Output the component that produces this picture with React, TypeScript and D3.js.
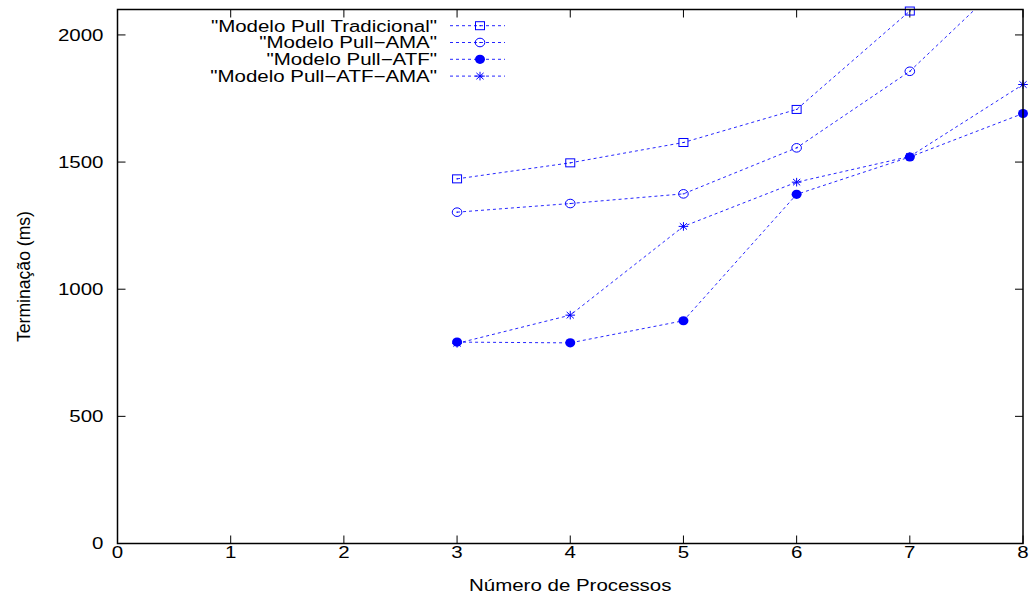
import React from "react";
import * as d3 from "d3";

const xValues = [3, 4, 5, 6, 7, 8];
const seriesNames = [
  '"Modelo Pull Tradicional"',
  '"Modelo Pull\u2212AMA"',
  '"Modelo Pull\u2212ATF"',
  '"Modelo Pull\u2212ATF\u2212AMA"',
];
const tradicional = [1434, 1497, 1577, 1707, 2094, 2500];
const pullAMA = [1303, 1337, 1375, 1556, 1857, 2280];
const pullATF = [792, 789, 876, 1373, 1520, 1691];
const pullATFAMA = [787, 898, 1247, 1421, 1522, 1805];
const markerTypes = ["square", "circle", "filled", "star"];
const xTicks = [0, 1, 2, 3, 4, 5, 6, 7, 8];
const yTicks = [0, 500, 1000, 1500, 2000];

const W = 1032;
const H = 596;
const L = 117.5, R = 1023, T = 9.5, B = 543.5;
const BLUE = "#0000ff";
const FONT = "'Liberation Sans', Arial, Helvetica, sans-serif";
const SX = 1.28;
const FS = 16;

function Marker({ type, cx, cy }: { type: string; cx: number; cy: number }) {
  if (type === "square") {
    return (
      <g>
        <rect x={cx - 4.5} y={cy - 4} width={9} height={8} fill="none" stroke={BLUE} strokeWidth={1} />
        <rect x={cx - 0.7} y={cy - 0.5} width={1.6} height={1} fill={BLUE} />
      </g>
    );
  }
  if (type === "circle") {
    return (
      <g>
        <ellipse cx={cx} cy={cy} rx={4.8} ry={4.3} fill="none" stroke={BLUE} strokeWidth={1} />
        <rect x={cx - 0.7} y={cy - 0.5} width={1.6} height={1} fill={BLUE} />
      </g>
    );
  }
  if (type === "filled") {
    return <ellipse cx={cx} cy={cy} rx={5} ry={4.6} fill={BLUE} />;
  }
  const a = 4.8, b = 4.3;
  return (
    <g stroke={BLUE} strokeWidth={1}>
      <line x1={cx - a} y1={cy} x2={cx + a} y2={cy} />
      <line x1={cx} y1={cy - b} x2={cx} y2={cy + b} />
      <line x1={cx - a * 0.75} y1={cy - b * 0.75} x2={cx + a * 0.75} y2={cy + b * 0.75} />
      <line x1={cx - a * 0.75} y1={cy + b * 0.75} x2={cx + a * 0.75} y2={cy - b * 0.75} />
    </g>
  );
}

function SText({ x, y, anchor, children }: any) {
  return (
    <text
      transform={`translate(${x},${y}) scale(${SX},1)`}
      textAnchor={anchor}
      fontSize={FS}
      fontFamily={FONT}
      fill="#000"
    >
      {children}
    </text>
  );
}

export default function App() {
  const x = d3.scaleLinear().domain([0, 8]).range([L, R]);
  const y = d3.scaleLinear().domain([0, 2100]).range([B, T]);
  const allSeries = [tradicional, pullAMA, pullATF, pullATFAMA];
  const line = d3
    .line<number>()
    .x((_, i) => x(xValues[i]))
    .y((d) => y(d));

  return (
    <svg
      width={W}
      height={H}
      style={{ position: "absolute", left: 0, top: 0, background: "#fff" }}
    >
      <defs>
        <clipPath id="plotClip">
          <rect x={L} y={T} width={R - L} height={B - T} />
        </clipPath>
      </defs>
      <rect x={0} y={0} width={W} height={H} fill="#fff" />

      {/* ticks */}
      {xTicks.map((t) => (
        <g key={"xt" + t} stroke="#000" strokeWidth={1}>
          <line x1={x(t)} x2={x(t)} y1={B} y2={B - 8} />
          <line x1={x(t)} x2={x(t)} y1={T} y2={T + 8} />
        </g>
      ))}
      {yTicks.map((t) => (
        <g key={"yt" + t} stroke="#000" strokeWidth={1}>
          <line x1={L} x2={L + 8} y1={y(t)} y2={y(t)} />
          <line x1={R} x2={R - 8} y1={y(t)} y2={y(t)} />
        </g>
      ))}
      {xTicks.map((t) => (
        <SText key={"xl" + t} x={x(t)} y={B + 14} anchor="middle">
          {t}
        </SText>
      ))}
      {yTicks.map((t) => (
        <SText key={"yl" + t} x={L - 14} y={y(t) + 5.8} anchor="end">
          {t}
        </SText>
      ))}

      {/* series lines */}
      <g clipPath="url(#plotClip)">
        {allSeries.map((s, i) => (
          <path
            key={"ln" + i}
            d={line(s) || ""}
            fill="none"
            stroke={BLUE}
            strokeWidth={1}
            strokeDasharray="3,3"
            opacity={0.85}
          />
        ))}
      </g>
      {allSeries.map((s, i) =>
        s.map((v, j) =>
          v <= 2100 ? (
            <Marker key={"m" + i + "-" + j} type={markerTypes[i]} cx={x(xValues[j])} cy={y(v)} />
          ) : null
        )
      )}

      {/* frame */}
      <rect x={L} y={T} width={R - L} height={B - T} fill="none" stroke="#000" strokeWidth={1.5} />

      {/* legend */}
      {seriesNames.map((name, i) => {
        const ly = 25.7 + i * 16.8;
        return (
          <g key={"lg" + i}>
            <SText x={437} y={ly + 5.8} anchor="end">
              {name}
            </SText>
            <line
              x1={450}
              x2={505}
              y1={ly}
              y2={ly}
              stroke={BLUE}
              strokeWidth={1}
              strokeDasharray="3,3"
              opacity={0.85}
            />
            <Marker type={markerTypes[i]} cx={480} cy={ly} />
          </g>
        );
      })}

      {/* axis titles */}
      <SText x={(L + R) / 2} y={591} anchor="middle">
        Número de Processos
      </SText>
      <text
        transform={`translate(30,${(T + B) / 2}) rotate(-90) scale(1.1,1.2)`}
        textAnchor="middle"
        fontSize={FS}
        fontFamily={FONT}
        fill="#000"
      >
        Terminação (ms)
      </text>
    </svg>
  );
}
